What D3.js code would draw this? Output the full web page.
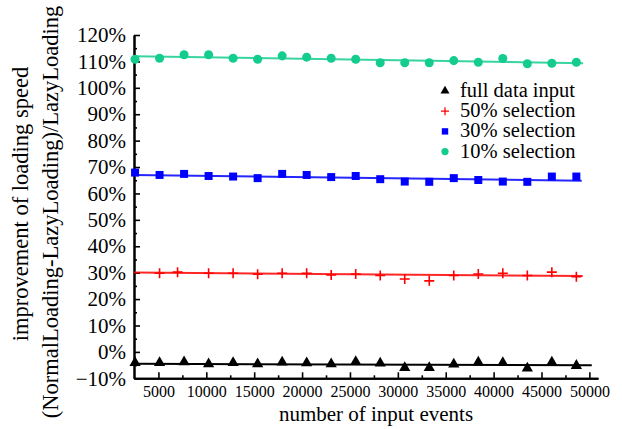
<!DOCTYPE html>
<html>
<head>
<meta charset="utf-8">
<script src="https://cdn.jsdelivr.net/npm/d3@7"></script>
<style>
  body { margin: 0; background: #fff; }
</style>
</head>
<body>
<script>
// x positions (number of input events)
var events = [2560, 5120, 7680, 10240, 12800, 15360, 17920, 20480, 23040, 25600,
  28160, 30720, 33280, 35840, 38400, 40960, 43520, 46080, 48640];
var eventsHalf = [5120, 7000, 10240, 12800, 15360, 17920, 20480, 23040, 25600,
  28160, 30720, 33280, 35840, 38400, 40960, 43520, 46080, 48640];

// improvement in %
var fullData = [-4.1, -4.1, -3.8, -4.6, -4.1, -4.6, -3.9, -4.2, -4.6, -3.7,
  -4.3, -6.0, -6.0, -4.7, -3.9, -4.1, -6.2, -3.9, -5.2];
var sel50 = [29.8, 30.2, 29.8, 29.8, 29.4, 29.8, 29.8, 29.1, 29.5, 28.9,
  27.6, 26.9, 28.9, 29.5, 29.8, 28.9, 30.2, 28.5];
var sel30 = [67.9, 67.0, 67.4, 66.6, 66.4, 65.8, 67.4, 67.0, 66.2, 66.6,
  65.4, 64.5, 64.4, 65.8, 65.1, 64.5, 64.4, 66.4, 66.4];
var sel10 = [110.8, 111.2, 112.5, 112.5, 111.2, 110.8, 112.1, 111.6, 111.2, 110.8,
  109.5, 109.5, 109.5, 110.3, 109.7, 111.1, 109.1, 109.3, 109.7];

// fitted lines: [x start, x end], [y start, y end]
var fitFullX = [2560, 50250], fitFullY = [-4.5, -5.1];
var fit50X = [2450, 49300], fit50Y = [30.1, 28.7];
var fit30X = [2450, 49200], fit30Y = [67.0, 64.8];
var fit10X = [2450, 49350], fit10Y = [112.0, 109.3];

var legendLabels = ['full data input', '50% selection', '30% selection', '10% selection'];
var xTicks = [5000, 10000, 15000, 20000, 25000, 30000, 35000, 40000, 45000, 50000];
var xMinorTicks = [7500, 12500, 17500, 22500, 27500, 32500, 37500, 42500, 47500];
var yTicks = [-10, 0, 10, 20, 30, 40, 50, 60, 70, 80, 90, 100, 110, 120];
var yMinorTicks = [-5, 5, 15, 25, 35, 45, 55, 65, 75, 85, 95, 105, 115];

var FONT = '"Liberation Serif", "DejaVu Serif", "Times New Roman", serif';

render();

function render() {
  var width = 622;
  var height = 429;
  var margin = { left: 134, right: 24, top: 35, bottom: 51 };

  var colors = ['#000000', '#ff0000', '#0000ff', '#14cc8f'];

  var xScale = d3.scaleLinear()
    .domain([2450, 50900])
    .range([margin.left, width - margin.right]);

  var yScale = d3.scaleLinear()
    .domain([-10, 120])
    .range([height - margin.bottom + 0.3, margin.top]);

  var svg = d3.select('body')
    .append('svg')
    .attr('width', width)
    .attr('height', height);

  // minor ticks
  var xMinor = d3.axisBottom(xScale).tickValues(xMinorTicks)
    .tickSizeInner(-3).tickSizeOuter(0).tickFormat('');
  var yMinor = d3.axisLeft(yScale).tickValues(yMinorTicks)
    .tickSizeInner(-3).tickSizeOuter(0).tickFormat('');

  var xAxis = d3.axisBottom(xScale)
    .tickValues(xTicks)
    .tickSizeInner(-6)
    .tickSizeOuter(0)
    .tickPadding(7)
    .tickFormat(d3.format('d'));

  var yAxis = d3.axisLeft(yScale)
    .tickValues(yTicks)
    .tickSizeInner(-6)
    .tickSizeOuter(0)
    .tickPadding(8)
    .tickFormat(function(d) { return d3.format('d')(d) + '%'; });

  svg.append('g')
    .attr('transform', 'translate(0,' + yScale(-10) + ')')
    .call(xMinor);
  svg.append('g')
    .attr('transform', 'translate(' + margin.left + ',0)')
    .call(yMinor);

  var gx = svg.append('g')
    .attr('class', 'x axis')
    .attr('transform', 'translate(0,' + yScale(-10) + ')')
    .call(xAxis);
  gx.selectAll('text').style('font-size', '16px');

  var gy = svg.append('g')
    .attr('class', 'y axis')
    .attr('transform', 'translate(' + margin.left + ',0)')
    .call(yAxis);
  gy.selectAll('text').style('font-size', '21px');

  svg.selectAll('.domain').attr('stroke-width', 2);
  svg.selectAll('.tick line').attr('stroke-width', 1.6);

  // fit lines
  var fits = [[fitFullX, fitFullY], [fit50X, fit50Y], [fit30X, fit30Y], [fit10X, fit10Y]];
  var line = d3.line()
    .x(function(d) { return xScale(d[0]); })
    .y(function(d) { return yScale(d[1]); });

  fits.forEach(function(f, i) {
    svg.append('path')
      .datum(d3.zip(f[0], f[1]))
      .attr('d', line)
      .attr('fill', 'none')
      .attr('stroke', colors[i])
      .attr('stroke-opacity', i == 0 ? 1 : 0.85)
      .attr('stroke-width', 2);
  });

  var triangle = d3.symbol().type(d3.symbolTriangle).size(55);
  var square = d3.symbol().type(d3.symbolSquare).size(64);
  var circle = d3.symbol().type(d3.symbolCircle).size(64);
  var cross = 'M-5,0H5M0,-5V5';

  var series = [
    { x: events, y: fullData, mark: triangle(), fill: true },
    { x: eventsHalf, y: sel50, mark: cross, fill: false },
    { x: events, y: sel30, mark: square(), fill: true },
    { x: events, y: sel10, mark: circle(), fill: true }
  ];

  series.forEach(function(s, i) {
    svg.append('g')
      .selectAll('path')
      .data(d3.zip(s.x, s.y))
      .enter()
      .append('path')
      .attr('transform', function(d) {
        return 'translate(' + xScale(d[0]) + ',' + yScale(d[1]) + ')';
      })
      .attr('d', s.mark)
      .attr('fill', s.fill ? colors[i] : 'none')
      .attr('stroke', s.fill ? 'none' : colors[i])
      .attr('stroke-width', 1.6);
  });

  // legend
  var legend = svg.append('g').attr('transform', 'translate(445,91)');
  legendLabels.forEach(function(label, i) {
    var row = legend.append('g').attr('transform', 'translate(0,' + (i * 20.2) + ')');
    row.append('path')
      .attr('d', series[i].mark)
      .attr('transform', 'scale(0.8)')
      .attr('fill', series[i].fill ? colors[i] : 'none')
      .attr('stroke', series[i].fill ? 'none' : colors[i])
      .attr('stroke-width', 1.6);
    row.append('text')
      .attr('x', 15)
      .attr('y', 6)
      .style('font-size', '20.5px')
      .text(label);
  });

  // axis titles
  svg.append('text')
    .attr('x', 376)
    .attr('y', 421)
    .attr('text-anchor', 'middle')
    .style('font-size', '21px')
    .text('number of input events');

  svg.append('text')
    .attr('transform', 'translate(28,204) rotate(-90)')
    .attr('text-anchor', 'middle')
    .style('font-size', '22.5px')
    .text('improvement of loading speed');

  svg.append('text')
    .attr('transform', 'translate(58,212) rotate(-90)')
    .attr('text-anchor', 'middle')
    .style('font-size', '22.5px')
    .text('(NormalLoading-LazyLoading)/LazyLoading');

  svg.selectAll('text')
    .style('font-family', FONT)
    .attr('fill', '#000');
}
</script>
</body>
</html>
